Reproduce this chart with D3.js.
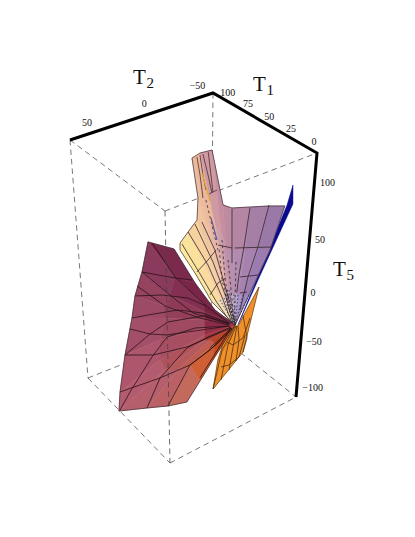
<!DOCTYPE html><html><head><meta charset="utf-8"><style>html,body{margin:0;background:#fff}svg{display:block}text{font-family:"Liberation Serif",serif;fill:#111}</style></head><body><script src="https://cdn.jsdelivr.net/npm/d3@7"></script>
<svg id="c" width="415" height="537"></svg>
<script>
// ---------- data: [T1, T2, T5] ----------
const t1Ticks=[0,25,50,75,100], t2Ticks=[-50,0,50], t5Ticks=[-100,-50,0,50,100];
const apex=[21.7,-11,-22];
const upperRays=[[[43.7,25.3,53],[38.9,15.2,30],[33,3.6,1]],[[42.5,26,60],[37.1,12.9,31],[31.1,1.3,2]],[[37.2,22.6,71],[33.9,9.8,38],[29.2,-1.1,3]],[[31.3,18.9,83],[30.4,6,43],[27.2,-3.5,5]],[[27.2,21,105],[28.8,6.5,55],[26.1,-4.6,8]],[[69.9,-3.8,110],[27.2,10.4,73],[26.4,-2.6,19]],[[72.5,-13.2,110],[25.7,6,73],[25.3,-4.9,13]],[[70.9,-23.1,110],[22.5,4.2,73],[24.4,-6.1,13]],[[17.8,6.4,98],[23.3,-1.3,53],[24.2,-7.1,8]],[[14.5,1.2,95],[20.2,-5.5,53],[22.9,-9.8,8]],[[6.6,-9,96],[15,-12.7,53],[20.6,-12.1,8]],[[-1.7,-19.5,97],[9.2,-20.4,53],[18.4,-15.2,8]],[[-9.8,-27.4,98],[3.8,-27.4,53],[15.6,-18.9,8]]];
const leftRays=[[[46.1,28.9,54],[39.6,14.7,20],[31.5,1.8,-7]],[[56.3,45,61],[48.1,27,26],[36.3,7.7,-2]],[[62.3,47.3,31],[51.6,29.4,8],[36.1,7.8,-9]],[[67.3,51.2,7],[54.4,32.3,-3],[36,7.8,-13]],[[69,53.7,-15],[54.3,32.6,-15],[35.9,7.8,-17]],[[71.8,60,-52],[56.3,36.4,-37],[35.8,7.9,-25]],[[71.6,66.7,-89],[55.6,37.2,-57],[35.6,7.9,-32]],[[70.8,69.2,-108],[52.5,34.7,-67],[35.5,8,-37]],[[58.2,49.5,-105],[46.5,26.2,-67],[33.1,4.9,-37]],[[48.5,35.1,-103],[41.3,18.2,-62],[30.7,1.8,-40]],[[39.8,22.3,-99],[35.2,12.7,-78],[30.8,3.4,-57]]];
const leftMesh=[[[54.7,42.5,60],[48.1,27,26],[36.3,7.7,-2],[24.5,-7.1,-20]],[[62.3,47.3,31],[51.6,29.4,8],[41.6,15.1,-10],[24.5,-7.1,-21]],[[65.6,50.1,17],[54.4,32.3,-3],[38.3,10.9,-15],[24.5,-7.1,-22]],[[69.9,55.4,-26],[60.9,42.6,-31],[53.2,31.7,-32],[24.5,-7.1,-23]],[[62.3,47.3,31],[48.2,26.9,25],[40.7,16.7,23]],[[67.3,51.2,7],[55.2,34.3,8],[43.7,18.3,5],[35.8,7.2,-3]],[[69,53.7,-15],[62,43.3,-12],[48.5,24.3,-7],[37.5,9.6,-10],[24.5,-7.1,-20]],[[71.8,60,-52],[60.9,42.6,-31],[52.9,30.8,-19],[36.7,8,-13],[24.1,-7.8,-21]],[[70.4,68.4,-107],[67.1,59.8,-89],[59.6,42.2,-54],[53.1,31.8,-34],[40.4,14,-25],[24,-7.8,-23]],[[58.2,49.5,-105],[54.3,38.5,-75],[43.8,19.3,-45],[34.1,6.1,-34],[23.5,-8.4,-24]],[[48.5,35.1,-103],[41.3,18.2,-62],[30.1,6,-44],[23.5,-8.4,-25]],[[71.8,60,-52],[59.2,41.4,-52],[43.8,19.3,-44],[23.5,-8.4,-25]],[[71.6,66.7,-89],[54.3,38.5,-75],[41.3,18.2,-62],[30.2,1.2,-42],[23,-9.1,-26]],[[35,3.8,-47],[23,-9.1,-25]],[[35.5,12.5,-75],[23.9,-7.8,-27]]];
const upperMesh=[[[41.8,24.8,59],[36.7,12.2,29],[31.1,1.3,2],[23.6,-8.4,-20]],[[37.2,22.6,71],[32.6,8,38],[28.1,-2.2,6],[23.2,-9,-20]],[[32.9,19.6,79],[30.1,5.3,41],[26.2,-4.7,6],[22.7,-9.7,-20]],[[29.5,15.9,81],[28.1,5.2,53],[25,-6.8,3]],[[38,14.1,31],[32.2,8.3,43],[27.7,4.5,53]],[[33.5,5.2,8],[29.1,1.2,20],[25.1,-3.4,25]],[[14.6,1,94],[20.4,-4.6,55],[21.6,-6,40]],[[6.8,-9.1,95],[15,-11.6,56],[19.2,-11.2,28],[20.4,-10.6,11]],[[-1.9,-19.4,98],[8.9,-19.9,56],[15.2,-16.8,26],[19.9,-14,-7]],[[19.1,-6.4,55],[2.5,-28.1,56]],[[18.8,-12,26],[10.6,-22.7,28]],[[26,4,58],[20.4,-4.6,55]],[[19.6,-13.2,10],[16.4,-17.4,11]]];
const ridgeDashed=[[[26.5,2.5,53],[27.1,-1.1,23],[24.5,-7,-7]],[[23.5,2.4,63],[24.8,-2.4,23],[23.4,-9,-12]],[[23.2,-3.4,43],[23.5,-7.4,13],[22.3,-10.3,-17]],[[19.8,-8.4,41],[22.2,-10.6,3],[21.8,-10.9,-19]],[[24.1,16.4,103],[25.6,9.9,78],[26.8,3.4,53]]];
const neckMesh=[[[69,-7.7,110],[46.1,6.1,110],[25,18.3,105]],[[70.1,-11.3,110],[44.9,4.5,110],[26.3,14.9,110]],[[70,-14,110],[42.7,1.7,110],[20.5,14,110]],[[70,-18.9,110],[41.4,0.1,110],[21.2,12.7,110]],[[21.9,15.5,109],[21.7,8.9,110]]];
const yellowSliver=[[47.6,3.4,110],[22.6,14,102]];
const blueSliver=[[24.9,11.3,85],[25.7,5.2,63]];
const orangeMesh=[[[21.7,-11,-23],[27.1,-2.7,-47],[28.2,4.7,-86]],[[21.2,-11.6,-23],[24.4,-6.6,-42],[25.1,-0.8,-77]],[[20.8,-12.3,-23],[22,-9.9,-44],[22.2,-6.6,-67]],[[20.3,-12.9,-23],[19.4,-13.7,-37],[19.7,-11.5,-58]],[[18.4,-15.9,-12],[15.7,-18.8,-35],[17.1,-16.4,-49]],[[24.9,-5.9,-39],[22.1,-9.9,-42],[17.6,-16.2,-35],[15,-20.4,-15]],[[26.2,-1.4,-64],[22.6,-6.8,-62],[18.6,-13.7,-54],[16.8,-17.5,-32]]];
const orangeFill=[[10.7,-24.3,16],[17.1,-16.4,-49],[28.2,4.7,-86],[28.4,0.3,-57],[24.8,-5,-29],[21.7,-11,-23],[20.3,-12.9,-23]];
const orangeDark=[[21.7,-11,-23],[28.4,0.3,-57],[27.1,-2.7,-49],[23.6,-7.9,-37]];
const blueFill=[[-5.2,-37.5,110],[-12.5,-32.5,99],[10.8,-23.1,23],[20.4,-12.9,-22],[-9.8,-29.4,98]];
// cell shades: per sector, outer → inner
const upperShades=[["#fdea9f","#fbe79f","#f2e2ae"],["#fbe29c","#fbdb9f","#efdcb4"],["#f7d29f","#f6d0a5","#e8d2bc"],["#f0c6a0","#f1c5a8","#e0c8c4"],["#eebd9e","#eebda6","#d8bcc4"],["#ebb89c","#e6b6a8","#d4b2c4"],["#cf9aa2","#cf9fa8","#ccacc0"],["#c68ea0","#c294aa","#c8b0c8"],["#bd8aa0","#b98fac","#c0aac8"],["#b585a4","#b18cb0","#b8a6cc"],["#a67fa6","#a882ae","#a896c6"],["#9a78a8","#9a7cb0","#9c88c0"]];
const leftShades=[["#7b2a4e","#7a2549","#701f40"],["#8a3a5c","#843052","#762340"],["#96435f","#8e3a58","#7d2744"],["#9c4a65","#95405a","#842c48"],["#a44f69","#a04a62","#8a2c48"],["#ad566c","#a84e62","#963048"],["#b45c6f","#b0525c","#a43840"],["#b55e6c","#b45a5c","#ae4038"],["#bb6166","#bd5c50","#b84428"],["#c46a5c","#cf5f34","#c24a1c"]];

// ---------- scales: data → unit box → screen ----------
const corners={C:[317,153],B:[213,93],D:[165,211],A:[70,140],F:[296,397],H:[211,329],G:[170,463],E:[88,378]};
const xT1=d3.scaleLinear().domain(t1Ticks).range([0,.22,.43,.635,.83]);
const xT2=d3.scaleLinear().domain(t2Ticks).range([.087,.46,.86]);
const xT5=d3.scaleLinear().domain(t5Ticks).range([.963,.775,.574,.357,.123]);
const {A,B,C,D,E,F,G,H}=corners;
function unit(s,t,w){const f=i=>{const top=(1-s)*(1-t)*C[i]+s*(1-t)*B[i]+(1-s)*t*D[i]+s*t*A[i];const bot=(1-s)*(1-t)*F[i]+s*(1-t)*H[i]+(1-s)*t*G[i]+s*t*E[i];return top*(1-w)+bot*w};return [f(0),f(1)]}
const project=d=>unit(xT1(d[0]),xT2(d[1]),xT5(d[2]));
const path=d3.line();
const poly=(pts)=>path(pts.map(project))+"Z";
const open=(pts)=>path(pts.map(project));

const svg=d3.select("#c");
function edge(p,q,col){svg.append("line").attr("x1",p[0]).attr("y1",p[1]).attr("x2",q[0]).attr("y2",q[1]).attr("stroke",col||"#555").attr("stroke-width",.8).attr("stroke-dasharray","5.5,4")}
[[A,D],[D,C],[B,H],[A,E],[E,H],[H,F],[E,G],[G,F]].forEach(e=>edge(e[0],e[1]));

function fillPoly(pts,col){svg.append("path").attr("d",poly(pts)).attr("fill",col).attr("stroke",col).attr("stroke-width",.5).attr("stroke-linejoin","round")}
function drawLines(list,w,col,dash){svg.append("g").selectAll("path").data(list).join("path").attr("d",open).attr("fill","none").attr("stroke",col).attr("stroke-width",w).attr("stroke-dasharray",dash||null).attr("stroke-linejoin","round")}
function sheet(rays,shades){
  shades.forEach((row,i)=>{row.forEach((col,r)=>{
    const a=rays[i],b=rays[i+1];
    const pts=r<2?[a[r],b[r],b[r+1],a[r+1]]:[a[r],b[r],apex];
    fillPoly(pts,col);
  })});
}
function outline(rays){const o=[...rays[0].slice().reverse(),...rays.slice(1).map(r=>r[0]),...rays[rays.length-1].slice(1),apex];
  svg.append("path").attr("d",poly(o)).attr("fill","none").attr("stroke","#3a2a30").attr("stroke-width",.7)}

// back sheets
fillPoly(blueFill,"#0a0a8e");
fillPoly(orangeFill,"#f0902a");
fillPoly(orangeDark,"#dc7a1c");
drawLines(orangeMesh,.7,"#3a2410");
svg.append("path").attr("d",poly(orangeFill)).attr("fill","none").attr("stroke","#4a3010").attr("stroke-width",.6);
// left sheet
sheet(leftRays,leftShades);
drawLines(leftMesh,.8,"#2a1018");
outline(leftRays);
// upper sheet
sheet(upperRays,upperShades);
drawLines(upperMesh,.8,"#33262c");
drawLines(ridgeDashed,.8,"#33262c","2.5,3");
drawLines(upperRays.slice(2).map(r=>[r[2],apex]),.8,"#2e2a30","1.5,2");
drawLines(neckMesh,.8,"#4a3036");
outline(upperRays);
drawLines([yellowSliver],1.2,"#e0a93a");
drawLines([blueSliver],1.2,"#5a5a9a");
// front vertical over the surface
edge(D,G,"#444");

// axes
svg.append("path").attr("d",path([A,B,C,F])).attr("fill","none").attr("stroke","#000").attr("stroke-width",3).attr("stroke-linejoin","miter");
const minus=v=>v<0?"\u2212"+(-v):""+v;
const label=(xy,s,anchor)=>svg.append("text").attr("x",xy[0]).attr("y",xy[1]).attr("dy",".33em").attr("font-size",10).attr("text-anchor",anchor).text(s);
t1Ticks.forEach(v=>{const p=unit(xT1(v),0,0);label([p[0]-3,p[1]-11],minus(v),"middle")});
t2Ticks.forEach(v=>{const p=unit(1,xT2(v),0);label([p[0]-3,p[1]-11],minus(v),"middle")});
t5Ticks.forEach(v=>{const p=unit(0,0,xT5(v));label([p[0]+5.5,p[1]],minus(v),"start")});
const title=(x,y,t,sub)=>{svg.append("text").attr("x",x).attr("y",y).attr("font-size",21).text(t);svg.append("text").attr("x",x+13.5).attr("y",y+4).attr("font-size",15).text(sub)};
title(133,84,"T","2");
title(253,91,"T","1");
title(333,276,"T","5");
</script></body></html>
